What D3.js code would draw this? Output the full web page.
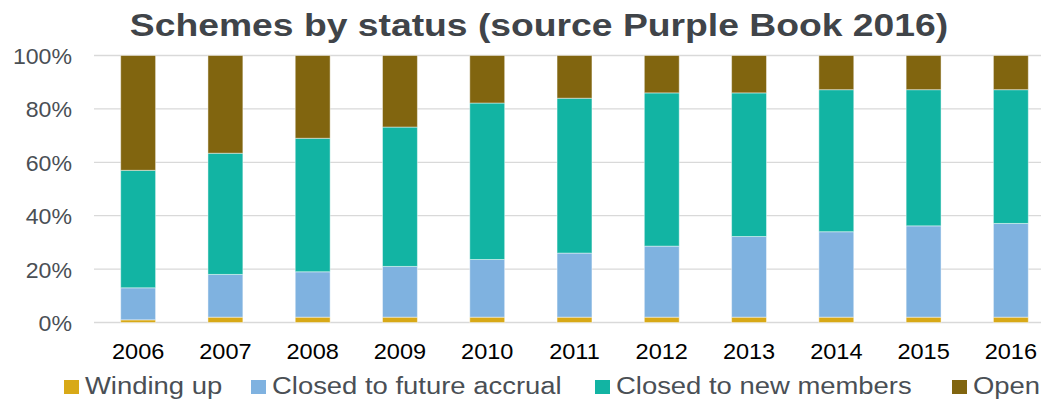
<!DOCTYPE html>
<html>
<head>
<meta charset="utf-8">
<script src="https://cdn.jsdelivr.net/npm/d3@7"></script>
<style>
  body { margin: 0; background: #fff; }
  text { font-family: "Liberation Sans", Arial, sans-serif; }
</style>
</head>
<body>
<div id="app"></div>
<script>
const w = 1041;
const h = 402;

// data (percent of schemes)
const years = ['2006', '2007', '2008', '2009', '2010', '2011', '2012', '2013', '2014', '2015', '2016'];
const windingUp = [1, 2, 2, 2, 2, 2, 2, 2, 2, 2, 2];
const closedFuture = [12, 16, 17, 19, 21.6, 24, 26.6, 30.2, 32, 34.2, 35.1];
const closedNew = [44, 45.4, 50, 52.2, 58.6, 58, 57.4, 53.8, 53.2, 51, 50.1];
const open = [43, 36.6, 31, 26.8, 17.8, 16, 14, 14, 12.8, 12.8, 12.8];
const seriesNames = ['Winding up', 'Closed to future accrual', 'Closed to new members', 'Open'];
const seriesColors = ['#D8A917', '#7FB2E0', '#12B4A3', '#81650F'];
const yTicks = [0, 0.2, 0.4, 0.6, 0.8, 1];

const svg = d3.select('#app')
  .append('svg')
  .attr('width', w)
  .attr('height', h);

// the source chart's text is a bit wider than Arial, stretch it horizontally
const stretch = (sel, sx) => sel.each(function () {
  const t = d3.select(this);
  const ax = +t.attr('x') || 0;
  t.attr('transform', 'translate(' + ax + ',0) scale(' + sx + ',1) translate(' + (-ax) + ',0)');
});

// title
svg.append('text')
  .attr('x', 539)
  .attr('y', 36)
  .attr('text-anchor', 'middle')
  .attr('font-size', 32)
  .attr('font-weight', 'bold')
  .attr('fill', '#404449')
  .text('Schemes by status (source Purple Book 2016)')
  .call(stretch, 1.165);

const x = d3.scaleBand()
  .domain(years)
  .range([94.5, 1054.5])
  .paddingInner(0.6)
  .paddingOuter(0.3);

const y = d3.scaleLinear()
  .domain([0, 1])
  .range([322.5, 55.5]);

//////////GRID + Y AXIS//////////

svg.append('g')
  .selectAll('line')
  .data(yTicks)
  .join('line')
  .attr('x1', 94)
  .attr('x2', w)
  .attr('y1', d => y(d))
  .attr('y2', d => y(d))
  .attr('stroke', '#d9d9d9')
  .attr('stroke-width', 1.3);

const yAxis = svg.append('g')
  .attr('transform', 'translate(72,0)')
  .call(d3.axisLeft(y).tickValues(yTicks).tickSize(0).tickPadding(0).tickFormat(d3.format('.0%')));
yAxis.select('.domain').remove();
yAxis.selectAll('text')
  .attr('dy', 8)
  .attr('font-size', 22)
  .attr('fill', '#4a4f55')
  .attr('font-family', '"Liberation Sans", Arial, sans-serif')
  .call(stretch, 1.05);

//////////BARS//////////

const rows = years.map((yr, i) => ({
  year: yr,
  'Winding up': windingUp[i],
  'Closed to future accrual': closedFuture[i],
  'Closed to new members': closedNew[i],
  'Open': open[i]
}));

const stack = d3.stack()
  .keys(seriesNames)
  .offset(d3.stackOffsetExpand);

const layers = stack(rows);

svg.append('g')
  .selectAll('g')
  .data(layers)
  .join('g')
  .attr('fill', (d, i) => seriesColors[i])
  .selectAll('rect')
  .data(d => d)
  .join('rect')
  .attr('x', d => x(d.data.year))
  .attr('width', x.bandwidth())
  .attr('y', d => y(d[1]))
  .attr('height', d => y(d[0]) - y(d[1]))
  .attr('stroke', 'rgba(255,255,255,0.45)')
  .attr('stroke-width', 1);

//////////X AXIS//////////

const xAxis = svg.append('g')
  .attr('transform', 'translate(0,359)')
  .call(d3.axisBottom(x).tickSize(0).tickPadding(0));
xAxis.select('.domain').remove();
xAxis.selectAll('text')
  .attr('y', 0)
  .attr('dy', 0)
  .attr('font-size', 22)
  .attr('fill', '#000')
  .attr('font-family', '"Liberation Sans", Arial, sans-serif')
  .call(stretch, 1.07);

//////////LEGEND//////////

const legend = svg.append('g').attr('transform', 'translate(0,394)');
const positions = [64, 251, 595, 952];

const items = legend.selectAll('g')
  .data(seriesNames)
  .join('g')
  .attr('transform', (d, i) => 'translate(' + positions[i] + ',0)');

items.append('rect')
  .attr('x', 0)
  .attr('y', -14)
  .attr('width', 15)
  .attr('height', 14)
  .attr('fill', (d, i) => seriesColors[i]);

items.append('text')
  .attr('x', 21)
  .attr('y', 0)
  .attr('font-size', 24.5)
  .attr('fill', '#4a4f55')
  .text(d => d)
  .call(stretch, 1.12);
</script>
</body>
</html>
